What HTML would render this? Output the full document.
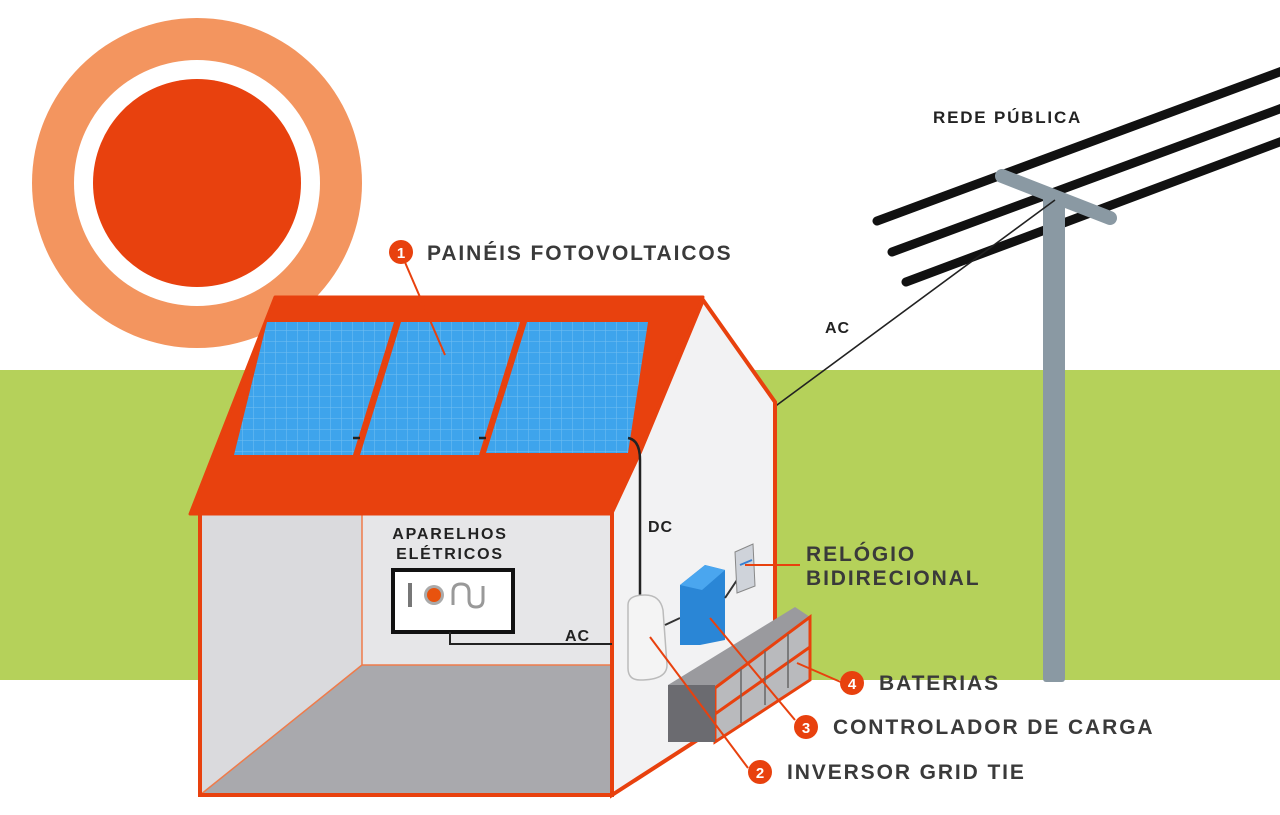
<!DOCTYPE html>
<html><head><meta charset="utf-8"><style>
html,body{margin:0;padding:0;background:#fff;width:1280px;height:815px;overflow:hidden}
svg{display:block}
text{font-family:"Liberation Sans",sans-serif;font-weight:bold}
</style></head><body>
<svg width="1280" height="815" viewBox="0 0 1280 815" xmlns="http://www.w3.org/2000/svg">
<defs>
<pattern id="grid" width="11" height="11" patternUnits="userSpaceOnUse">
<rect width="11" height="11" fill="#3ea4ec"/>
<path d="M0 0H11M0 0V11" stroke="#74bff2" stroke-width="1"/>
</pattern>
</defs>
<rect width="1280" height="815" fill="#fff"/>
<rect x="0" y="370" width="1280" height="310" fill="#b5d15a"/>
<circle cx="197" cy="183" r="165" fill="#f3955f"/>
<circle cx="197" cy="183" r="123" fill="#fff"/>
<circle cx="197" cy="183" r="104" fill="#e8410e"/>
<g stroke="#111" stroke-width="9" stroke-linecap="round">
<line x1="877" y1="221" x2="1285" y2="70"/>
<line x1="892" y1="252" x2="1285" y2="107"/>
<line x1="906" y1="282" x2="1285" y2="140"/>
</g>
<rect x="1043" y="195" width="22" height="487" rx="3" fill="#8a99a3"/>
<line x1="1002" y1="176" x2="1110" y2="218" stroke="#8a99a3" stroke-width="14" stroke-linecap="round"/>
<path d="M1055 200 L777 405 Q765 415 765 430 L765 560" fill="none" stroke="#222" stroke-width="1.6"/>
<polygon points="703,300 775,402 775,690 612,795 612,512 640,452" fill="#f2f2f3" stroke="#e8410e" stroke-width="4"/>
<rect x="200" y="512" width="412" height="283" fill="#dadadd"/>
<rect x="362" y="512" width="250" height="153" fill="#e6e6e8"/>
<polygon points="200,795 362,665 612,665 612,795" fill="#a9a9ad"/>
<g stroke="#ef7b4a" stroke-width="1.5" fill="none">
<line x1="362" y1="512" x2="362" y2="665"/><line x1="362" y1="665" x2="612" y2="665"/><line x1="362" y1="665" x2="200" y2="795"/>
</g>
<rect x="200" y="512" width="412" height="283" fill="none" stroke="#e8410e" stroke-width="4"/>
<polygon points="275,297 703,297 640,452 610,514 190,514" fill="#e8410e" stroke="#e8410e" stroke-width="3" stroke-linejoin="round"/>
<polygon points="267,322 394,322 353,455 234,455" fill="url(#grid)"/>
<polygon points="401,322 520,322 479,455 360,455" fill="url(#grid)"/>
<polygon points="527,322 648,322 628,453 486,453" fill="url(#grid)"/>
<path d="M353 438 L360 438 M479 438 L486 438 M628 438 Q640 440 640 460 L640 600" fill="none" stroke="#222" stroke-width="2.5"/>
<rect x="393" y="570" width="120" height="62" fill="#fff" stroke="#111" stroke-width="4"/>
<rect x="408" y="583" width="4" height="24" fill="#777"/>
<circle cx="434" cy="595" r="10" fill="#aaa"/><circle cx="434" cy="595" r="7" fill="#e8530e"/>
<path d="M453 605 V592 Q453 584 461 584 Q469 584 469 592 V600 Q469 607 476 607 Q483 607 483 600 V586" fill="none" stroke="#999" stroke-width="3"/>
<path d="M450 632 V644 H612" fill="none" stroke="#222" stroke-width="2"/>
<text x="450" y="539" font-size="16" text-anchor="middle" fill="#222" letter-spacing="1.8">APARELHOS</text>
<text x="450" y="559" font-size="16" text-anchor="middle" fill="#222" letter-spacing="1.8">ELÉTRICOS</text>
<text x="565" y="641" font-size="16" fill="#222" letter-spacing="1">AC</text>
<text x="648" y="532" font-size="16" fill="#222" letter-spacing="1">DC</text>
<text x="825" y="333" font-size="16" fill="#222" letter-spacing="1">AC</text>
<path d="M628 605 Q628 595 645 595 Q660 595 663 610 L667 665 Q667 680 640 680 Q628 680 628 668 Z" fill="#f4f4f4" stroke="#bbb" stroke-width="1.5"/>
<line x1="665" y1="625" x2="680" y2="618" stroke="#333" stroke-width="2"/>
<polygon points="680,585 705,565 725,570 725,640 700,645 680,645" fill="#2a86d6"/>
<polygon points="680,585 705,565 725,570 702,590" fill="#4aa6ef"/>
<line x1="725" y1="598" x2="737" y2="580" stroke="#333" stroke-width="2"/>
<polygon points="735,552 753,544 755,586 737,593" fill="#cfd3da" stroke="#888" stroke-width="1"/>
<line x1="740" y1="565" x2="752" y2="560" stroke="#3a7fd0" stroke-width="2"/>
<polygon points="668,685 715,688 810,617 795,607" fill="#9a9a9e"/>
<polygon points="715,688 810,617 810,680 715,742" fill="#b9babd" stroke="#e8410e" stroke-width="3"/>
<g stroke="#e8410e" stroke-width="3"><line x1="715" y1="714" x2="810" y2="647"/></g>
<g stroke="#666" stroke-width="1.5"><line x1="741" y1="669" x2="741" y2="723"/><line x1="765" y1="651" x2="765" y2="705"/><line x1="788" y1="634" x2="788" y2="688"/></g>
<rect x="668" y="685" width="47" height="57" fill="#6b6b70"/>
<g stroke="#e8410e" stroke-width="2" fill="none">
<line x1="404" y1="260" x2="445" y2="355"/>
<line x1="650" y1="637" x2="748" y2="768"/>
<line x1="710" y1="618" x2="795" y2="720"/>
<line x1="797" y1="663" x2="843" y2="683"/>
<line x1="745" y1="565" x2="800" y2="565"/>
</g>
<g font-size="15" fill="#fff" text-anchor="middle">
<circle cx="401" cy="252" r="12" fill="#e8410e"/><text x="401" y="258">1</text>
<circle cx="760" cy="772" r="12" fill="#e8410e"/><text x="760" y="778">2</text>
<circle cx="806" cy="727" r="12" fill="#e8410e"/><text x="806" y="733">3</text>
<circle cx="852" cy="683" r="12" fill="#e8410e"/><text x="852" y="689">4</text>
</g>
<g font-size="21" fill="#3a3a3a" letter-spacing="1.9">
<text x="427" y="260">PAINÉIS FOTOVOLTAICOS</text>
<text x="787" y="779">INVERSOR GRID TIE</text>
<text x="833" y="734">CONTROLADOR DE CARGA</text>
<text x="879" y="690">BATERIAS</text>
<text x="806" y="561">RELÓGIO</text>
<text x="806" y="585">BIDIRECIONAL</text>
</g>
<text x="933" y="123" font-size="17" fill="#222" letter-spacing="1.8">REDE PÚBLICA</text>
</svg>
</body></html>
